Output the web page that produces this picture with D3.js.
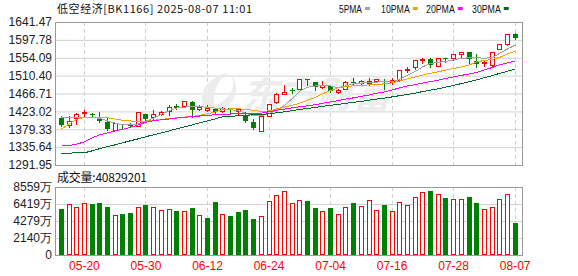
<!DOCTYPE html>
<head>
	<meta charset="utf-8">
	<script src="https://d3js.org/d3.v7.min.js"></script>
	<style>
		body {
			margin: 0;
			background: #fff;
		}
		text {
			font-family: "Liberation Sans", Arial, sans-serif;
		}
		.cjk {
			font-family: "Noto Sans CJK SC", sans-serif;
		}
	</style>
</head>
<body>

<svg width="578" height="276" id="chart"></svg>

<script>

	var dates = [
		"05-15", "05-16", "05-19", "05-20", "05-21", "05-22", "05-23", "05-26", "05-27", "05-28",
		"05-29", "05-30", "06-03", "06-04", "06-05", "06-06", "06-09", "06-10", "06-11", "06-12",
		"06-13", "06-16", "06-17", "06-18", "06-19", "06-20", "06-23", "06-24", "06-25", "06-26",
		"06-27", "06-30", "07-01", "07-02", "07-03", "07-04", "07-07", "07-08", "07-09", "07-10",
		"07-11", "07-14", "07-15", "07-16", "07-17", "07-18", "07-21", "07-22", "07-23", "07-24",
		"07-25", "07-28", "07-29", "07-30", "07-31", "08-01", "08-04", "08-05", "08-06", "08-07"
	];

	var opens = [
		1406.6, 1388.5, 1408.0, 1418.8, 1417.8, 1408.0, 1396.8, 1376.3, 1391.9, 1391.9,
		1386.1, 1416.3, 1409.0, 1417.1, 1424.4, 1436.6, 1435.8, 1446.3, 1428.5, 1426.8,
		1429.2, 1424.4, 1431.0, 1425.1, 1414.6, 1397.5, 1373.9, 1412.2, 1444.9, 1465.1,
		1474.9, 1477.3, 1501.7, 1495.1, 1482.2, 1485.3, 1470.7, 1477.3, 1495.8, 1492.7,
		1493.4, 1497.5, 1498.3, 1494.4, 1500.0, 1524.4, 1532.5, 1548.8, 1550.5, 1533.4,
		1553.0, 1554.4, 1562.7, 1567.5, 1547.1, 1542.2, 1536.6, 1574.9, 1587.1, 1612.2
	];

	var highs = [
		1410.5, 1412.2, 1418.8, 1426.8, 1418.8, 1422.7, 1409.0, 1394.4, 1392.7, 1395.8,
		1421.2, 1417.1, 1426.8, 1424.4, 1439.0, 1440.7, 1449.5, 1448.0, 1439.0, 1439.0,
		1432.4, 1434.9, 1432.0, 1431.0, 1422.7, 1404.9, 1412.2, 1440.7, 1467.5, 1487.8,
		1481.2, 1502.4, 1502.4, 1495.8, 1496.8, 1487.1, 1478.0, 1496.8, 1504.9, 1499.3,
		1504.1, 1503.2, 1502.4, 1504.1, 1524.4, 1532.5, 1548.8, 1554.4, 1553.0, 1553.0,
		1553.0, 1563.4, 1567.5, 1568.3, 1563.4, 1548.8, 1569.0, 1587.1, 1611.5, 1615.4
	];

	var lows = [
		1387.8, 1384.6, 1391.9, 1409.0, 1409.0, 1396.8, 1378.0, 1376.3, 1380.5, 1384.6,
		1386.1, 1402.4, 1404.9, 1415.3, 1413.9, 1428.5, 1434.9, 1409.0, 1426.8, 1423.6,
		1418.8, 1421.9, 1422.7, 1417.1, 1396.8, 1380.5, 1373.9, 1412.2, 1443.2, 1465.1,
		1469.0, 1477.3, 1487.8, 1475.6, 1481.2, 1470.7, 1467.5, 1477.3, 1488.5, 1487.8,
		1487.8, 1495.8, 1477.3, 1490.2, 1498.3, 1519.5, 1526.8, 1542.2, 1531.0, 1533.4,
		1544.6, 1548.8, 1555.6, 1540.7, 1532.5, 1534.1, 1535.1, 1574.9, 1585.4, 1599.7
	];

	var closes = [
		1390.2, 1400.0, 1416.3, 1422.7, 1417.1, 1400.0, 1379.7, 1394.4, 1389.5, 1386.1,
		1421.2, 1404.9, 1416.3, 1422.7, 1434.9, 1432.4, 1448.0, 1426.8, 1433.4, 1431.0,
		1422.7, 1432.4, 1429.5, 1428.5, 1400.7, 1381.2, 1412.2, 1440.7, 1465.8, 1471.4,
		1472.4, 1502.4, 1499.3, 1483.6, 1488.5, 1472.4, 1475.6, 1495.1, 1493.4, 1496.8,
		1498.3, 1501.7, 1495.8, 1500.0, 1524.4, 1526.9, 1548.8, 1550.5, 1536.6, 1553.0,
		1550.5, 1563.4, 1567.5, 1551.9, 1538.3, 1544.6, 1567.5, 1587.1, 1611.5, 1603.2
	];

	// 成交量, 万
	var volumes = [
		5790, 6380, 6000, 6510, 6420, 6550, 6040, 5000, 5160, 5290,
		6000, 6290, 6000, 5660, 5790, 5540, 5500, 5920, 5000, 4660,
		6670, 5120, 4910, 5410, 5660, 4530, 4870, 6800, 7550, 8020,
		6510, 6920, 6800, 5920, 5500, 5920, 5120, 6000, 6550, 6130,
		6920, 5660, 6290, 5500, 6630, 6250, 7260, 7890, 8060, 7640,
		7180, 7050, 7050, 7300, 6550, 5790, 6000, 7050, 7640, 4083
	];

	var ma5 = [
		1408.0, 1408.5, 1409.0, 1409.0, 1408.5, 1406.1, 1400.0, 1393.9, 1390.2, 1390.2,
		1392.7, 1398.8, 1406.6, 1415.8, 1424.9, 1431.0, 1433.6, 1434.1, 1434.9, 1432.9,
		1431.0, 1429.2, 1427.5, 1424.4, 1418.3, 1412.7, 1412.2, 1418.3, 1425.6, 1437.8,
		1454.9, 1471.9, 1481.7, 1485.3, 1485.3, 1485.3, 1480.5, 1485.3, 1490.2, 1492.2,
		1493.4, 1494.6, 1495.6, 1495.8, 1501.2, 1511.0, 1520.7, 1531.7, 1540.2, 1542.7,
		1545.1, 1548.8, 1552.4, 1554.1, 1554.1, 1552.9, 1554.9, 1564.6, 1575.6, 1585.3
	];

	var ma10 = [
		1379.7, 1392.7, 1403.6, 1408.0, 1408.5, 1408.5, 1407.3, 1404.1, 1401.2, 1399.5,
		1398.8, 1399.2, 1401.2, 1403.6, 1405.3, 1407.3, 1409.2, 1411.0, 1413.4, 1417.1,
		1421.9, 1426.8, 1429.2, 1429.2, 1428.0, 1425.6, 1422.7, 1424.4, 1428.8, 1433.6,
		1438.3, 1442.7, 1450.0, 1457.3, 1465.8, 1474.4, 1480.5, 1483.4, 1485.3, 1486.8,
		1487.8, 1489.0, 1490.2, 1492.7, 1497.5, 1502.4, 1507.3, 1511.7, 1516.3, 1520.0,
		1523.9, 1527.5, 1531.7, 1536.6, 1543.9, 1547.5, 1550.0, 1554.9, 1563.4, 1570.7
	];

	var ma20 = [
		1338.3, 1339.5, 1342.7, 1348.8, 1358.5, 1365.8, 1370.7, 1375.6, 1379.2, 1384.1,
		1390.2, 1396.3, 1400.5, 1402.4, 1404.4, 1406.6, 1408.5, 1410.2, 1411.7, 1413.4,
		1414.6, 1415.8, 1416.6, 1417.1, 1417.5, 1418.3, 1418.8, 1421.9, 1425.6, 1428.8,
		1431.7, 1434.1, 1436.6, 1439.5, 1442.7, 1446.3, 1449.5, 1452.9, 1456.1, 1459.7,
		1463.4, 1467.1, 1470.7, 1475.6, 1480.5, 1485.3, 1488.5, 1492.2, 1495.8, 1499.5,
		1503.6, 1507.3, 1511.0, 1514.6, 1518.3, 1524.4, 1530.5, 1536.6, 1541.4, 1546.3
	];

	var ma30 = [
		1320.7, 1321.2, 1321.4, 1321.9, 1326.8, 1331.7, 1336.6, 1341.4, 1346.3, 1351.2,
		1356.1, 1361.0, 1365.8, 1370.7, 1375.6, 1380.5, 1385.3, 1390.2, 1395.1, 1400.0,
		1404.9, 1409.7, 1411.0, 1412.2, 1413.4, 1414.6, 1415.8, 1417.1, 1419.5, 1421.9,
		1424.9, 1427.5, 1430.2, 1432.9, 1435.3, 1437.8, 1440.2, 1442.7, 1445.1, 1447.5,
		1450.5, 1453.2, 1455.6, 1458.5, 1461.4, 1464.6, 1467.8, 1471.4, 1474.9, 1478.5,
		1482.2, 1486.6, 1491.0, 1495.6, 1500.0, 1505.3, 1510.5, 1515.8, 1521.2, 1526.8
	];

	var priceTicks = [1291.95, 1335.64, 1379.33, 1423.02, 1466.71, 1510.40, 1554.09, 1597.78, 1641.47];
	var volTicks = [0, 2140, 4279, 6419, 8559];
	var labelDates = ["05-20", "05-30", "06-12", "06-24", "07-04", "07-16", "07-28", "08-07"];

	var maNames = ["5PMA", "10PMA", "20PMA", "30PMA"];
	var maColors = ["#a3a3a3", "#f5a300", "#ff00ff", "#006b2d"];
	var maSeries = [ma5, ma10, ma20, ma30];

	var title = "低空经济[BK1166] 2025-08-07 11:01";
	var volTitle = "成交量:40829201";

	var red = "#ff0000",
		green = "#008000";

	var svg = d3.select("#chart"),
		left = 55,
		right = 522,
		pTop = 22,
		pBottom = 165,
		vTop = 187,
		vBottom = 255;

	var x = d3.scaleBand()
		.domain(dates)
		.range([57, 518.5]);

	var cx = d => Math.round(x(d) + x.bandwidth() / 2);

	var y = d3.scaleLinear()
		.domain([priceTicks[0], priceTicks[priceTicks.length - 1]])
		.range([pBottom, pTop]);

	var yv = d3.scaleLinear()
		.domain([0, volTicks[volTicks.length - 1]])
		.range([vBottom, vTop]);

	var bars = dates.map((d, i) => ({
		date: d,
		open: opens[i],
		high: highs[i],
		low: lows[i],
		close: closes[i],
		vol: volumes[i],
		up: closes[i] > opens[i],
		volUp: i ? closes[i] >= closes[i - 1] : closes[i] > opens[i]
	}));

	// price axis + grid
	var yAxis = svg.append("g")
		.attr("transform", "translate(" + left + ",0)")
		.call(d3.axisLeft(y)
			.tickValues(priceTicks)
			.tickSize(-(right - left))
			.tickPadding(3)
			.tickFormat(d3.format(".2f")));

	yAxis.select(".domain").remove();
	yAxis.selectAll("line").attr("stroke", "#d2d2d2");
	yAxis.selectAll("text")
		.attr("font-size", 12)
		.attr("font-family", "Liberation Sans, Arial, sans-serif")
		.attr("fill", "#222");

	// volume axis + grid
	var vAxis = svg.append("g")
		.attr("transform", "translate(" + left + ",0)")
		.call(d3.axisLeft(yv)
			.tickValues(volTicks)
			.tickSize(-(right - left))
			.tickPadding(3)
			.tickFormat(d => d ? d + "万" : "0"));

	vAxis.select(".domain").remove();
	vAxis.selectAll("line").attr("stroke", "#d2d2d2");
	vAxis.selectAll("text")
		.attr("font-size", 12)
		.attr("font-family", "Liberation Sans, Noto Sans CJK SC, sans-serif")
		.attr("fill", "#222");

	// vertical dashed lines
	svg.append("g").selectAll("line")
		.data(labelDates.flatMap(d => [[d, pTop, pBottom], [d, vTop, vBottom]]))
		.enter().append("line")
		.attr("x1", d => cx(d[0]) + 0.5)
		.attr("x2", d => cx(d[0]) + 0.5)
		.attr("y1", d => d[1])
		.attr("y2", d => d[2])
		.attr("stroke", "#cfcfcf")
		.attr("stroke-dasharray", "4,3");

	// watermark
	var wm = svg.append("g").attr("fill", "#ececec");
	wm.append("path")
		.attr("d", "M206,110 C196,96 204,80 228,72 C216,82 211,95 216,110 Z M214,106 C230,100 236,88 232,76 C240,88 236,102 222,110 Z");
	wm.append("text")
		.attr("class", "cjk")
		.attr("x", 242)
		.attr("y", 108)
		.attr("font-size", 37)
		.attr("font-weight", "bold")
		.attr("font-style", "italic")
		.attr("textLength", 148)
		.text("东方财富");

	// candles
	var candles = svg.append("g")
		.attr("shape-rendering", "crispEdges")
		.selectAll("g")
		.data(bars)
		.enter().append("g");

	candles.filter(d => !d.up).each(function(d) {
		var g = d3.select(this), c = cx(d.date);
		var t = Math.round(y(d.open)), b = Math.round(y(d.close));
		g.append("line")
			.attr("x1", c + 0.5).attr("x2", c + 0.5)
			.attr("y1", Math.round(y(d.high))).attr("y2", Math.round(y(d.low)) + 1)
			.attr("stroke", green);
		g.append("rect")
			.attr("x", c - 2).attr("y", t)
			.attr("width", 5).attr("height", Math.max(1, b - t))
			.attr("fill", green);
	});

	candles.filter(d => d.up).each(function(d) {
		var g = d3.select(this), c = cx(d.date);
		var t = Math.round(y(d.close)), b = Math.round(y(d.open));
		g.append("line")
			.attr("x1", c + 0.5).attr("x2", c + 0.5)
			.attr("y1", Math.round(y(d.high))).attr("y2", t)
			.attr("stroke", red);
		g.append("line")
			.attr("x1", c + 0.5).attr("x2", c + 0.5)
			.attr("y1", b).attr("y2", Math.round(y(d.low)) + 1)
			.attr("stroke", red);
		g.append("rect")
			.attr("x", c - 1.5).attr("y", t + 0.5)
			.attr("width", 4).attr("height", Math.max(0, b - t))
			.attr("fill", "#fff")
			.attr("stroke", red);
	});

	// moving averages
	var line = d3.line()
		.x((d, i) => cx(dates[i]) + 0.5)
		.y(d => y(d));

	svg.append("g").selectAll("path")
		.data(maSeries)
		.enter().append("path")
		.attr("d", line)
		.attr("fill", "none")
		.attr("stroke", (d, i) => maColors[i])
		.attr("stroke-width", 1)
		.attr("shape-rendering", "crispEdges");

	// volume bars
	svg.append("g")
		.attr("shape-rendering", "crispEdges")
		.selectAll("rect")
		.data(bars)
		.enter().append("rect")
		.attr("x", d => d.volUp ? cx(d.date) - 1.5 : cx(d.date) - 2)
		.attr("y", d => d.volUp ? Math.round(yv(d.vol)) + 0.5 : Math.round(yv(d.vol)))
		.attr("width", d => d.volUp ? 4 : 5)
		.attr("height", d => d.volUp ? vBottom - 1 - Math.round(yv(d.vol)) : vBottom - Math.round(yv(d.vol)))
		.attr("fill", d => d.volUp ? "#fff" : green)
		.attr("stroke", d => d.volUp ? red : "none");

	// frames
	svg.append("rect")
		.attr("x", left + 0.5).attr("y", pTop + 0.5)
		.attr("width", right - left).attr("height", pBottom - pTop)
		.attr("fill", "none").attr("stroke", "#9a9a9a");

	svg.append("rect")
		.attr("x", left + 0.5).attr("y", vTop + 0.5)
		.attr("width", right - left).attr("height", vBottom - vTop)
		.attr("fill", "none").attr("stroke", "#9a9a9a");

	// date labels
	var xAxis = svg.append("g")
		.attr("transform", "translate(0," + (vBottom + 3) + ")")
		.call(d3.axisBottom(x)
			.tickValues(labelDates)
			.tickSize(0)
			.tickPadding(3));

	xAxis.select(".domain").remove();
	xAxis.selectAll("text")
		.attr("x", 0.5)
		.attr("font-size", 12)
		.attr("font-family", "Liberation Sans, Arial, sans-serif")
		.attr("fill", red);

	// titles
	svg.append("text")
		.attr("class", "cjk")
		.attr("x", 57)
		.attr("y", 13)
		.attr("font-size", 11)
		.attr("fill", "#111")
		.attr("textLength", 195)
		.text(title);

	svg.append("text")
		.attr("class", "cjk")
		.attr("x", 57)
		.attr("y", 182)
		.attr("font-size", 12)
		.attr("fill", "#111")
		.attr("textLength", 90)
		.text(volTitle);

	// legend
	var legendX = [339, 381, 426, 472];

	var legend = svg.selectAll(".legend")
		.data(maNames)
		.enter().append("g")
		.attr("class", "legend")
		.attr("transform", (d, i) => "translate(" + legendX[i] + ",0)");

	legend.append("text")
		.attr("y", 13)
		.attr("font-size", 11)
		.attr("fill", "#111")
		.attr("textLength", d => d.length * 5.75)
		.attr("lengthAdjust", "spacingAndGlyphs")
		.text(d => d);

	legend.append("rect")
		.attr("x", d => d.length * 5.75 + 3)
		.attr("y", 7)
		.attr("width", 5)
		.attr("height", 3)
		.attr("fill", (d, i) => maColors[i]);

</script>
</body>
